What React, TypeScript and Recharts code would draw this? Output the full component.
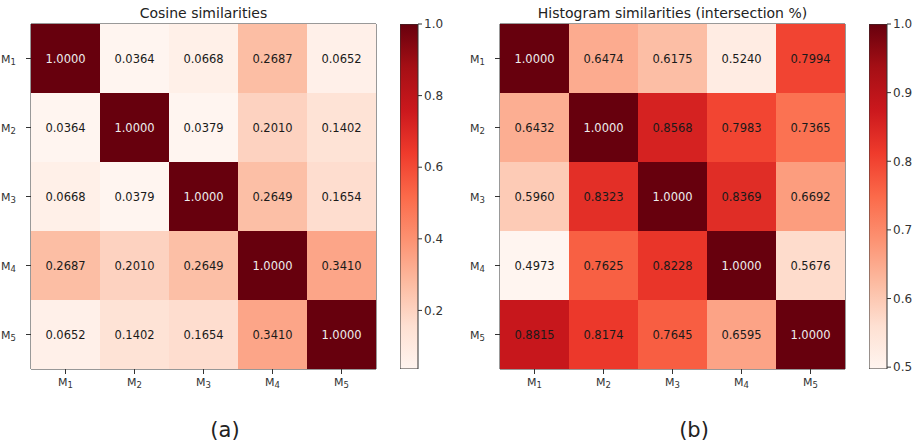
import {
  ScatterChart,
  Scatter,
  XAxis,
  YAxis,
  ReferenceArea,
  BarChart,
  Bar,
} from "recharts";

const labels = ["1", "2", "3", "4", "5"];

const cosine = [
  [1.0, 0.0364, 0.0668, 0.2687, 0.0652],
  [0.0364, 1.0, 0.0379, 0.201, 0.1402],
  [0.0668, 0.0379, 1.0, 0.2649, 0.1654],
  [0.2687, 0.201, 0.2649, 1.0, 0.341],
  [0.0652, 0.1402, 0.1654, 0.341, 1.0],
];

const histogram = [
  [1.0, 0.6474, 0.6175, 0.524, 0.7994],
  [0.6432, 1.0, 0.8568, 0.7983, 0.7365],
  [0.596, 0.8323, 1.0, 0.8369, 0.6692],
  [0.4973, 0.7625, 0.8228, 1.0, 0.5676],
  [0.8815, 0.8174, 0.7645, 0.6595, 1.0],
];

const cosineTicks = [0.2, 0.4, 0.6, 0.8, 1.0];
const histTicks = [0.5, 0.6, 0.7, 0.8, 0.9, 1.0];

// matplotlib "Reds"
const REDS = [
  "#fff5f0",
  "#fee0d2",
  "#fcbba1",
  "#fc9272",
  "#fb6a4a",
  "#ef3b2c",
  "#cb181d",
  "#a50f15",
  "#67000d",
];

function hex(c: string) {
  return [1, 3, 5].map((i) => parseInt(c.slice(i, i + 2), 16));
}

function reds(t: number) {
  const s = Math.max(0, Math.min(1, t)) * (REDS.length - 1);
  const i = Math.min(REDS.length - 2, Math.floor(s));
  const f = s - i;
  const a = hex(REDS[i]);
  const b = hex(REDS[i + 1]);
  const m = a.map((v, k) => Math.round(v + (b[k] - v) * f));
  return `rgb(${m[0]},${m[1]},${m[2]})`;
}

const FONT = "'DejaVu Sans', sans-serif";
const W = 460;
const H = 446;
const TOP = 24;
const LEFT = 31;
const PLOT = 345;
const CELL = PLOT / 5;

function XTick({ x, y, payload }: any) {
  return (
    <text x={x} y={y + 10} textAnchor="middle" fontSize={11} fill="#333" fontFamily={FONT}>
      M
      <tspan fontSize={8.5} dy={2}>
        {labels[payload.value]}
      </tspan>
    </text>
  );
}

function YTick({ x, y, payload }: any) {
  return (
    <text x={x - 8} y={y + 4} textAnchor="end" fontSize={11} fill="#333" fontFamily={FONT}>
      M
      <tspan fontSize={8.5} dy={2}>
        {labels[payload.value]}
      </tspan>
    </text>
  );
}

type PanelProps = {
  id: string;
  values: number[][];
  ticks: number[];
  title: string;
  tag: string;
  left: number;
};

function Panel({ id, values, ticks, title, tag, left }: PanelProps) {
  const flat = values.flat();
  const vmin = Math.min(...flat);
  const vmax = Math.max(...flat);
  const data = values.flatMap((row, i) => row.map((v, j) => ({ x: j, y: i, v })));

  const cellShape = (p: any) => {
    const t = (p.payload.v - vmin) / (vmax - vmin);
    return (
      <g>
        <rect
          x={p.cx - CELL / 2}
          y={p.cy - CELL / 2}
          width={CELL + 0.5}
          height={CELL + 0.5}
          fill={reds(t)}
        />
        <text
          x={p.cx}
          y={p.cy + 4}
          textAnchor="middle"
          fontSize={11.5}
          fontFamily={FONT}
          fill={t > 0.9 ? "#eeeeee" : "#1a1a1a"}
        >
          {p.payload.v.toFixed(4)}
        </text>
      </g>
    );
  };

  return (
    <div style={{ position: "absolute", left, top: 0, width: W, height: H }}>
      <div
        style={{
          position: "absolute",
          left: LEFT,
          width: PLOT,
          top: 4,
          textAlign: "center",
          fontFamily: FONT,
          fontSize: 14,
          lineHeight: "18px",
          color: "#222",
        }}
      >
        {title}
      </div>
      <div style={{ position: "absolute", left: 0, top: 0 }}>
        <ScatterChart
          width={W}
          height={H}
          margin={{ top: TOP, left: 0, right: W - LEFT - PLOT, bottom: H - TOP - PLOT - 30 }}
        >
          <XAxis
            type="number"
            dataKey="x"
            domain={[-0.5, 4.5]}
            ticks={[0, 1, 2, 3, 4]}
            height={30}
            tick={<XTick />}
            tickSize={5}
            axisLine={false}
            tickLine={{ stroke: "#333" }}
            allowDataOverflow
          />
          <YAxis
            type="number"
            dataKey="y"
            domain={[-0.5, 4.5]}
            reversed
            ticks={[0, 1, 2, 3, 4]}
            width={LEFT}
            tick={<YTick />}
            tickSize={5}
            axisLine={false}
            tickLine={{ stroke: "#333" }}
            allowDataOverflow
          />
          <Scatter data={data} shape={cellShape} isAnimationActive={false} />
          <ReferenceArea
            x1={-0.5}
            x2={4.5}
            y1={-0.5}
            y2={4.5}
            fill="none"
            fillOpacity={0}
            stroke="#333"
            strokeWidth={1}
            ifOverflow="visible"
          />
        </ScatterChart>
      </div>
      <div style={{ position: "absolute", left: 400, top: 0 }}>
        <BarChart
          width={58}
          height={H}
          data={[{ k: "cb", r: [vmin, vmax] }]}
          margin={{ top: TOP, left: 0, right: 0, bottom: H - TOP - PLOT }}
          barCategoryGap={0}
        >
          <defs>
            <linearGradient id={`grad-${id}`} x1="0" y1="1" x2="0" y2="0">
              {REDS.map((c, i) => (
                <stop key={c} offset={i / (REDS.length - 1)} stopColor={c} />
              ))}
            </linearGradient>
          </defs>
          <XAxis dataKey="k" hide />
          <YAxis
            orientation="right"
            type="number"
            domain={[vmin, vmax]}
            ticks={ticks}
            allowDataOverflow
            width={40}
            axisLine={false}
            tickSize={4}
            tickLine={{ stroke: "#333" }}
            tickFormatter={(v: number) => v.toFixed(1)}
            tick={{ fontSize: 12, fill: "#333", fontFamily: FONT }}
          />
          <Bar
            dataKey="r"
            fill={`url(#grad-${id})`}
            stroke="#333"
            strokeWidth={1}
            isAnimationActive={false}
          />
        </BarChart>
      </div>
      <div
        style={{
          position: "absolute",
          left: 0,
          width: 450,
          top: 418,
          textAlign: "center",
          fontFamily: FONT,
          fontSize: 21,
          color: "#222",
        }}
      >
        {tag}
      </div>
    </div>
  );
}

export default function App() {
  return (
    <div
      style={{
        position: "absolute",
        left: 0,
        top: 0,
        width: 919,
        height: 446,
        background: "#fff",
        overflow: "hidden",
      }}
    >
      <Panel id="a" values={cosine} ticks={cosineTicks} title="Cosine similarities" tag="(a)" left={0} />
      <Panel
        id="b"
        values={histogram}
        ticks={histTicks}
        title="Histogram similarities (intersection %)"
        tag="(b)"
        left={469}
      />
    </div>
  );
}
